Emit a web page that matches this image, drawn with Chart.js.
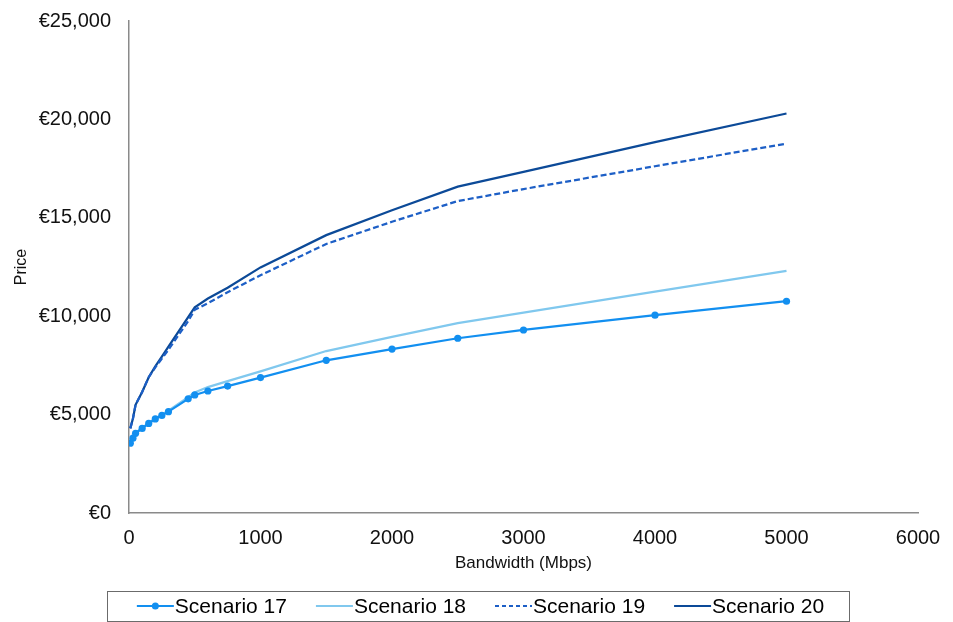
<!DOCTYPE html>
<html>
<head>
<meta charset="utf-8">
<script src="https://cdn.jsdelivr.net/npm/chart.js@4/dist/chart.umd.min.js"></script>
<style>
  html, body { margin: 0; padding: 0; background: #ffffff; }
  #wrap { width: 953px; height: 622px; position: relative; }
</style>
</head>
<body>
<div id="wrap"><canvas id="c"></canvas></div>
<script>
// ---- Data ----
const bandwidth = [10, 30, 50, 100, 150, 200, 250, 300, 450, 500, 600, 750, 1000, 1500, 2000, 2500, 3000, 4000, 5000];
const scenario17 = [3550, 3800, 4050, 4300, 4550, 4780, 4960, 5150, 5800, 6000, 6200, 6450, 6880, 7760, 8330, 8880, 9300, 10050, 10760];
const scenario18 = [3580, 3830, 4080, 4330, 4580, 4800, 5000, 5200, 5880, 6120, 6400, 6700, 7200, 8230, 8950, 9650, 10180, 11250, 12300];
const scenario19 = [4300, 4800, 5500, 6150, 6900, 7400, 7850, 8300, 9750, 10330, 10660, 11220, 12080, 13670, 14800, 15850, 16460, 17620, 18770];
const scenario20 = [4300, 4800, 5500, 6150, 6900, 7450, 7950, 8450, 9950, 10450, 10900, 11450, 12480, 14120, 15380, 16580, 17330, 18850, 20300];
const seriesNames = ['Scenario 17', 'Scenario 18', 'Scenario 19', 'Scenario 20'];
const xTickValues = [0, 1000, 2000, 3000, 4000, 5000, 6000];
const yTickValues = [0, 5000, 10000, 15000, 20000, 25000];
const xTitle = 'Bandwidth (Mbps)';
const yTitle = 'Price';

const FONT = "'Liberation Sans', Arial, Helvetica, sans-serif";
const toPoints = (vals) => bandwidth.map((b, i) => ({ x: b, y: vals[i] }));

const datasets = [
  { label: seriesNames[0], data: toPoints(scenario17), borderColor: '#128ff0', backgroundColor: '#128ff0',
    borderWidth: 2.25, pointRadius: 3.6, pointHoverRadius: 3.6, pointBackgroundColor: '#128ff0', pointBorderWidth: 0 },
  { label: seriesNames[1], data: toPoints(scenario18), borderColor: '#80c8ee', backgroundColor: '#80c8ee',
    borderWidth: 2.25, pointRadius: 0 },
  { label: seriesNames[2], data: toPoints(scenario19), borderColor: '#1d5fc6', backgroundColor: '#1d5fc6',
    borderWidth: 2.25, pointRadius: 0, borderDash: [6, 3] },
  { label: seriesNames[3], data: toPoints(scenario20), borderColor: '#0c4a98', backgroundColor: '#0c4a98',
    borderWidth: 2.25, pointRadius: 0 }
];

// custom boxed legend drawn beneath the plot
const boxedLegend = {
  id: 'boxedLegend',
  afterDraw(chart) {
    const ctx = chart.ctx;
    const fs = 21, lineLen = 37, gap = 30;
    ctx.save();
    ctx.font = fs + 'px ' + FONT;
    const items = chart.data.datasets.map(ds => ({ ds, w: ctx.measureText(ds.label).width }));
    const total = items.reduce((s, it) => s + lineLen + it.w, 0) + gap * (items.length - 1);
    const box = { left: 107, right: 849, top: 591, bottom: 621 };
    const cy = (box.top + box.bottom) / 2;
    ctx.strokeStyle = '#6b6b6b';
    ctx.lineWidth = 1;
    ctx.strokeRect(box.left + 0.5, box.top + 0.5, box.right - box.left, box.bottom - box.top);
    let x = 480 - total / 2;
    items.forEach(it => {
      const ds = it.ds;
      ctx.beginPath();
      ctx.setLineDash(ds.borderDash ? [4, 3] : []);
      ctx.strokeStyle = ds.borderColor;
      ctx.lineWidth = 2;
      ctx.moveTo(x, cy);
      ctx.lineTo(x + lineLen, cy);
      ctx.stroke();
      ctx.setLineDash([]);
      if (ds.pointRadius > 0) {
        ctx.beginPath();
        ctx.fillStyle = ds.pointBackgroundColor;
        ctx.arc(x + lineLen / 2, cy, 3.5, 0, Math.PI * 2);
        ctx.fill();
      }
      ctx.fillStyle = '#000';
      ctx.textBaseline = 'middle';
      ctx.textAlign = 'left';
      ctx.fillText(ds.label, x + lineLen + 1, cy + 1);
      x += lineLen + it.w + gap;
    });
    ctx.restore();
  }
};

new Chart(document.getElementById('c'), {
  type: 'scatter',
  data: { datasets },
  options: {
    responsive: true,
    maintainAspectRatio: false,
    animation: false,
    devicePixelRatio: 1,
    showLine: true,
    elements: { line: { tension: 0, fill: false } },
    layout: { autoPadding: false, padding: { top: 21, right: 35, bottom: 40, left: 0 } },
    plugins: { legend: { display: false }, tooltip: { enabled: false } },
    scales: {
      x: {
        type: 'linear',
        min: xTickValues[0],
        max: xTickValues[xTickValues.length - 1],
        afterBuildTicks: (s) => { s.ticks = xTickValues.map(v => ({ value: v })); },
        afterFit: (s) => { s.height = 69; },
        grid: { display: false, drawTicks: true, tickLength: 12 },
        border: { display: true, color: '#8a8a8a', width: 1.5 },
        ticks: { padding: 1, color: '#111', font: { family: FONT, size: 20 }, callback: (v) => String(v), maxRotation: 0 },
        title: { display: true, text: xTitle, color: '#111', font: { family: FONT, size: 17 }, padding: { top: 0, bottom: 8 } }
      },
      y: {
        type: 'linear',
        min: yTickValues[0],
        max: yTickValues[yTickValues.length - 1],
        afterBuildTicks: (s) => { s.ticks = yTickValues.map(v => ({ value: v })); },
        afterFit: (s) => { s.width = 129; },
        grid: { display: false, drawTicks: true, tickLength: 16 },
        border: { display: true, color: '#8a8a8a', width: 1.5 },
        ticks: { padding: 2, color: '#111', font: { family: FONT, size: 20 },
                 callback: (v) => '€' + Number(v).toLocaleString('en-US') },
        title: { display: true, text: yTitle, color: '#111', font: { family: FONT, size: 16 }, padding: { top: 12, bottom: 0 } }
      }
    }
  },
  plugins: [boxedLegend]
});
</script>
</body>
</html>
